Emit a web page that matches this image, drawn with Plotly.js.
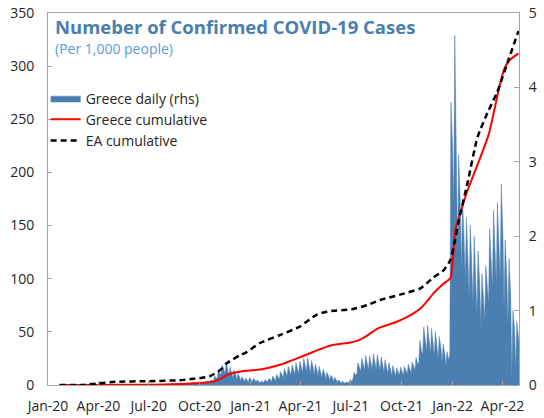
<!DOCTYPE html>
<html>
<head>
<meta charset="utf-8">
<script src="https://cdn.plot.ly/plotly-3.0.1.min.js"></script>
<style>html,body{margin:0;padding:0;background:#fff;}#chart{width:544px;height:418px;}</style>
</head>
<body>
<div id="chart"></div>
<script>
// Greece daily cases per 1,000 people (rhs), weeks starting Monday 2020-01-20:
// Monday trough, Wednesday peak, Saturday level
const firstWeek = "2020-01-20";
const dailyTrough = [
  0,0,0,0,0,0,0,0.002,0.003,0.004,0.004,0.003,0.002,0.003,0.001,0.001,0.001,0.001,0.001,0.001,
  0.002,0.002,0.002,0.002,0.002,0.003,0.003,0.004,0.006,0.01,0.012,0.013,0.012,0.012,0.014,0.016,0.018,0.02,0.022,0.03,
  0.05,0.1,0.14,0.15,0.12,0.09,0.07,0.05,0.04,0.03,
  0.03,0.03,0.025,0.03,0.04,0.05,0.06,0.08,0.1,0.12,0.13,0.14,0.15,0.17,0.18,0.16,0.13,0.12,0.1,0.08,
  0.06,0.045,0.035,0.025,0.02,0.03,0.08,0.15,0.18,0.2,0.2,0.21,0.2,0.19,0.17,0.15,0.13,0.12,0.13,0.13,
  0.15,0.16,0.2,0.3,0.42,0.45,0.42,0.4,0.36,0.3,0.25,0.4,
  2.4,1.8,1.5,1.4,1.2,1.1,0.95,0.8,0.85,1.1,1.3,1.35,1.4,1.0,0.8,0.1,0.2,0.5
];
const dailyPeak = [
  0,0,0,0,0,0,0.001,0.004,0.006,0.008,0.008,0.006,0.005,0.01,0.002,0.002,0.002,0.002,0.002,0.002,
  0.005,0.003,0.003,0.003,0.004,0.005,0.005,0.008,0.012,0.02,0.025,0.028,0.025,0.025,0.03,0.035,0.04,0.045,0.05,0.065,
  0.12,0.2,0.27,0.31,0.24,0.2,0.15,0.11,0.09,0.1,
  0.09,0.07,0.055,0.07,0.09,0.12,0.14,0.18,0.22,0.25,0.27,0.3,0.32,0.36,0.37,0.33,0.28,0.25,0.21,0.17,
  0.13,0.1,0.07,0.05,0.04,0.07,0.17,0.3,0.36,0.4,0.39,0.42,0.41,0.38,0.34,0.3,0.26,0.23,0.24,0.25,
  0.28,0.31,0.37,0.6,0.78,0.8,0.76,0.72,0.65,0.55,0.45,3.8,
  4.7,3.1,2.5,2.25,2.15,2.0,1.8,1.5,1.6,2.1,2.35,2.45,2.7,1.95,1.7,1.0,0.85,0.5
];
const dailySat = [
  0,0,0,0,0,0,0.001,0.003,0.005,0.006,0.006,0.005,0.004,0.004,0.0015,0.0015,0.0015,0.0015,0.0015,0.0015,
  0.003,0.0025,0.0025,0.0025,0.003,0.004,0.004,0.006,0.009,0.015,0.019,0.021,0.019,0.019,0.022,0.026,0.03,0.034,0.038,0.05,
  0.09,0.15,0.2,0.22,0.17,0.14,0.11,0.08,0.065,0.07,
  0.065,0.05,0.04,0.05,0.065,0.085,0.1,0.13,0.16,0.18,0.2,0.22,0.23,0.26,0.27,0.24,0.2,0.18,0.15,0.12,
  0.095,0.07,0.05,0.035,0.03,0.05,0.13,0.22,0.27,0.3,0.29,0.31,0.3,0.28,0.25,0.22,0.19,0.17,0.18,0.19,
  0.21,0.23,0.28,0.45,0.6,0.62,0.58,0.55,0.5,0.42,0.34,3.2,
  3.3,2.4,1.9,1.75,1.6,1.5,1.35,1.15,1.2,1.6,1.8,1.85,2.0,1.45,1.2,0.75,0.65,0.5
];

// Greece cumulative cases per 1,000 people (lhs)
const grDates = ["2020-01-22","2020-03-31","2020-06-30","2020-08-31","2020-09-30","2020-10-20","2020-10-31","2020-11-10","2020-11-20","2020-12-01","2020-12-15","2020-12-31",
  "2021-01-24","2021-02-23","2021-03-26","2021-04-24","2021-05-24","2021-06-30","2021-07-15","2021-08-01","2021-08-20","2021-09-20","2021-10-18","2021-11-06","2021-11-18","2021-11-27","2021-12-15","2021-12-28",
  "2022-01-06","2022-01-15","2022-01-28","2022-02-20","2022-03-08","2022-03-28","2022-04-05","2022-04-15","2022-04-30"];
const grCum = [0,0.1,0.3,1.0,1.8,2.8,4,6.5,9.5,11.5,12.8,13.6,
  15,19,25,31,37,40,42,47,53.5,59,66,73,80,86,95,100.6,
  146,162,183,214,237,284,298,306,312];

// Euro area cumulative cases per 1,000 people (lhs)
const eaDates = ["2020-01-22","2020-03-01","2020-04-01","2020-05-01","2020-07-01","2020-08-26","2020-09-14","2020-10-01","2020-10-20","2020-11-07","2020-11-19","2020-12-13","2020-12-25",
  "2021-01-18","2021-02-23","2021-03-31","2021-04-30","2021-05-19","2021-07-05","2021-07-30","2021-08-23","2021-09-28","2021-11-04","2021-11-27","2021-12-16","2021-12-28",
  "2022-01-05","2022-01-11","2022-01-28","2022-02-15","2022-03-05","2022-03-23","2022-04-10","2022-04-30"];
const eaCum = [0,0.05,1.5,3,3.6,4.5,5.6,6.4,8.5,14,20.5,28,31,
  39.5,47,55,66,69,71.5,75,80,85,91,101,108,117.6,
  135,152,190,233,256,276,303,333];

// x-axis tick labels
const tickDates = ["2020-01-01","2020-04-01","2020-07-01","2020-10-01","2021-01-01","2021-04-01","2021-07-01","2021-10-01","2022-01-01","2022-04-01"];
const tickLabels = ["Jan-20","Apr-20","Jul-20","Oct-20","Jan-21","Apr-21","Jul-21","Oct-21","Jan-22","Apr-22"];

function addDays(iso, n) {
  const d = new Date(iso + "T00:00:00Z");
  d.setUTCDate(d.getUTCDate() + n);
  return d.toISOString().slice(0, 10);
}
const dX = [], dY = [];
for (let i = 0; i < dailyPeak.length; i++) {
  dX.push(addDays(firstWeek, 7 * i)); dY.push(dailyTrough[i]);
  dX.push(addDays(firstWeek, 7 * i + 2)); dY.push(dailyPeak[i]);
  dX.push(addDays(firstWeek, 7 * i + 5)); dY.push(dailySat[i]);
}

const FONT = "Open Sans, Noto Sans, sans-serif";
const AX = "#a6a6a6";

const traces = [
  {x: dX, y: dY, type: "scatter", mode: "lines", name: "Greece daily (rhs)", yaxis: "y",
   fill: "tozeroy", fillcolor: "#4b7fb0", line: {color: "#4b7fb0", width: 0.5}},
  {x: grDates, y: grCum, type: "scatter", mode: "lines", name: "Greece cumulative", yaxis: "y2",
   line: {color: "#ff0000", width: 2, shape: "spline", smoothing: 0.6}},
  {x: eaDates, y: eaCum, type: "scatter", mode: "lines", name: "EA cumulative", yaxis: "y2",
   line: {color: "#000000", width: 2.5, dash: "6px,4px", shape: "spline", smoothing: 0.6}}
];

const layout = {
  width: 544, height: 418,
  margin: {l: 48, r: 25, t: 13, b: 33, pad: 0},
  paper_bgcolor: "#fff", plot_bgcolor: "#fff",
  font: {family: FONT, size: 14, color: "#262626"},
  showlegend: true,
  legend: {x: -0.005, y: 0.813, xanchor: "left", yanchor: "top", bgcolor: "rgba(0,0,0,0)",
           font: {family: FONT, size: 14, color: "#262626"}, itemwidth: 30, tracegroupgap: 0},
  xaxis: {type: "date", range: ["2020-01-01", "2022-05-01"], tickvals: tickDates, ticktext: tickLabels,
          showgrid: false, zeroline: false, showline: true, linecolor: AX, linewidth: 1, mirror: true,
          ticks: "inside", ticklen: 4, tickcolor: AX, ticklabelstandoff: 8,
          tickfont: {family: FONT, size: 14, color: "#262626"}},
  yaxis: {range: [0, 5], dtick: 1, side: "right", showgrid: false, zeroline: false,
          showline: true, linecolor: AX, linewidth: 1, ticks: "inside", ticklen: 5, tickcolor: AX,
          ticklabelstandoff: 6, tickfont: {family: FONT, size: 14, color: "#262626"}},
  yaxis2: {range: [0, 350], dtick: 50, side: "left", overlaying: "y", showgrid: false, zeroline: false,
           showline: true, linecolor: AX, linewidth: 1, ticks: "inside", ticklen: 4, tickcolor: AX,
           ticklabelstandoff: 10, tickfont: {family: FONT, size: 14, color: "#262626"}},
  annotations: [
    {text: "<b>Numeber of Confirmed COVID-19 Cases</b>", xref: "paper", yref: "paper",
     x: 0.01, y: 1 - (27 - 13) / 372, xanchor: "left", yanchor: "middle", showarrow: false,
     font: {family: FONT, size: 18.5, color: "#4a7ead"}},
    {text: "(Per 1,000 people)", xref: "paper", yref: "paper",
     x: 0.01, y: 1 - (48 - 13) / 372, xanchor: "left", yanchor: "middle", showarrow: false,
     font: {family: FONT, size: 14, color: "#5b9bd5"}}
  ]
};

Plotly.newPlot("chart", traces, layout, {displayModeBar: false, staticPlot: true});
</script>
</body>
</html>
